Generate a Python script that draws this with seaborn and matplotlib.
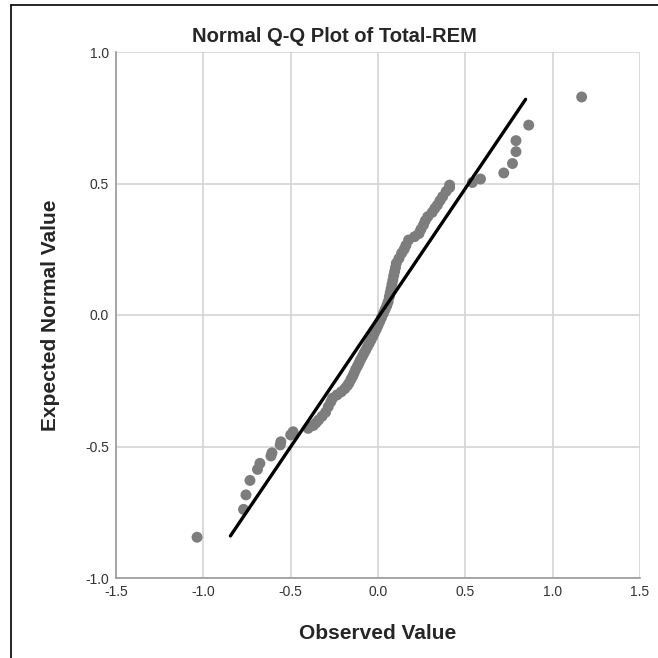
import matplotlib
matplotlib.use("Agg")
import matplotlib.pyplot as plt
from matplotlib.lines import Line2D
import seaborn as sns
import pandas as pd

title = "Normal Q-Q Plot of Total-REM"
x_label = "Observed Value"
y_label = "Expected Normal Value"

observed = [-1.036, -0.77, -0.756, -0.733, -0.69, -0.676, -0.613, -0.607, -0.56, -0.556,
            -0.50, -0.486, -0.40, -0.37, -0.355, -0.34, -0.32, -0.30, -0.285, -0.27,
            -0.26, -0.235, -0.21, -0.19, -0.175, -0.166, -0.155, -0.145, -0.137, -0.128,
            -0.118, -0.109, -0.10, -0.09, -0.08, -0.07, -0.06, -0.05, -0.04, -0.03,
            -0.02, -0.01, 0.0, 0.01, 0.02, 0.03, 0.04, 0.05, 0.058, 0.065,
            0.07, 0.075, 0.08, 0.085, 0.09, 0.095, 0.10, 0.105, 0.12, 0.135,
            0.15, 0.16, 0.175, 0.21, 0.235, 0.245, 0.26, 0.27, 0.285, 0.31,
            0.325, 0.34, 0.355, 0.37, 0.39, 0.41, 0.41, 0.54, 0.587, 0.72,
            0.77, 0.79, 0.79, 0.863, 1.166]
expected = [-0.845, -0.739, -0.684, -0.629, -0.587, -0.564, -0.536, -0.524, -0.494, -0.482,
            -0.456, -0.444, -0.431, -0.42, -0.41, -0.399, -0.385, -0.37, -0.349, -0.33,
            -0.316, -0.304, -0.292, -0.28, -0.268, -0.259, -0.245, -0.233, -0.221, -0.207,
            -0.195, -0.183, -0.17, -0.158, -0.145, -0.133, -0.12, -0.108, -0.095, -0.082,
            -0.068, -0.055, -0.04, -0.025, -0.01, 0.005, 0.02, 0.035, 0.05, 0.07,
            0.085, 0.10, 0.117, 0.133, 0.15, 0.165, 0.18, 0.197, 0.215, 0.235,
            0.25, 0.265, 0.285, 0.298, 0.31, 0.325, 0.342, 0.358, 0.374, 0.39,
            0.405, 0.418, 0.435, 0.45, 0.47, 0.485, 0.494, 0.504, 0.517, 0.54,
            0.576, 0.621, 0.663, 0.722, 0.829]

ref_line_x = [-0.845, 0.845]
ref_line_y = [-0.84, 0.82]

x_ticks = [-1.5, -1.0, -0.5, 0.0, 0.5, 1.0, 1.5]
y_ticks = [-1.0, -0.5, 0.0, 0.5, 1.0]

df = pd.DataFrame({"obs": observed, "exp": expected})
line_df = pd.DataFrame({"x": ref_line_x, "y": ref_line_y})

sns.set_style("white")
plt.rcParams["font.family"] = ["Liberation Sans", "DejaVu Sans"]

fig = plt.figure(figsize=(6.58, 6.58), dpi=100)
ax = fig.add_axes([116/658, 80/658, 524/658, 526/658])

ax.set_xlim(-1.5, 1.5)
ax.set_ylim(-1.0, 1.0)
ax.set_xticks(x_ticks)
ax.set_yticks(y_ticks)
ax.set_xticklabels([f"{v:.1f}" for v in x_ticks])
ax.set_yticklabels([f"{v:.1f}" for v in y_ticks])
ax.grid(True, color="#d4d4d4", linewidth=1.2)
ax.set_axisbelow(True)

sns.scatterplot(data=df, x="obs", y="exp", ax=ax, color="#7d7d7d", s=62,
                edgecolor="none", zorder=3)
sns.lineplot(data=line_df, x="x", y="y", ax=ax, color="black", linewidth=2.4,
             zorder=4)

for side in ["top", "right"]:
    ax.spines[side].set_visible(False)
for side in ["left", "bottom"]:
    ax.spines[side].set_color("#9a9a9a")
    ax.spines[side].set_linewidth(1.2)

ax.tick_params(axis="both", which="both", length=3, width=1, color="#9a9a9a",
               labelsize=10, labelcolor="#333333", pad=2, direction="out")

ax.set_xlabel(x_label, fontsize=15, fontweight="bold", labelpad=18)
ax.set_ylabel(y_label, fontsize=15, fontweight="bold", labelpad=18)
fig.text(0.508, 1 - 36/658, title, fontsize=14.5, fontweight="bold",
         ha="center", va="center")

# outer frame (partially visible)
fig.add_artist(Line2D([11/658, 11/658], [0, 1 - 5/658], color="black", linewidth=1.2,
                      transform=fig.transFigure))
fig.add_artist(Line2D([11/658, 1], [1 - 5/658, 1 - 5/658], color="black", linewidth=1.2,
                      transform=fig.transFigure))

fig.savefig("out.png", dpi=100, facecolor="white")
